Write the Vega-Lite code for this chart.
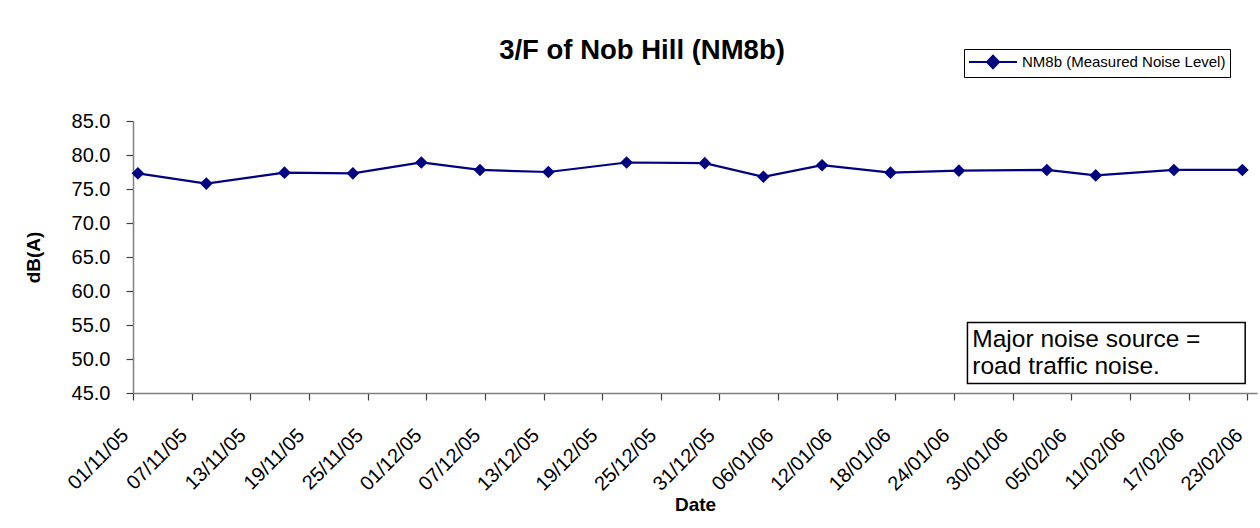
{
  "$schema": "https://vega.github.io/schema/vega-lite/v6.json",
  "autosize": {"type": "none"},
  "width": 1124,
  "height": 272,
  "padding": {"left": 133, "top": 121, "right": 3, "bottom": 135},
  "background": "white",
  "config": {
    "font": "Liberation Sans",
    "view": {"stroke": null},
    "axis": {"labelFont": "Liberation Sans", "titleFont": "Liberation Sans", "labelColor": "black", "titleColor": "black", "domainColor": "#808080", "tickColor": "#404040", "domainWidth": 1.5, "tickWidth": 1.2}
  },
  "title": {
    "text": "3/F of Nob Hill (NM8b)",
    "font": "Liberation Sans",
    "fontSize": 27.5,
    "fontWeight": "bold",
    "color": "black",
    "anchor": "middle",
    "frame": "group",
    "dx": -53,
    "baseline": "alphabetic",
    "offset": -38
  },
  "data": {
    "values": [
      {"date": "2005-11-01", "level": 77.3, "series": "NM8b (Measured Noise Level)"},
      {"date": "2005-11-08", "level": 75.8, "series": "NM8b (Measured Noise Level)"},
      {"date": "2005-11-16", "level": 77.4, "series": "NM8b (Measured Noise Level)"},
      {"date": "2005-11-23", "level": 77.3, "series": "NM8b (Measured Noise Level)"},
      {"date": "2005-11-30", "level": 78.9, "series": "NM8b (Measured Noise Level)"},
      {"date": "2005-12-06", "level": 77.8, "series": "NM8b (Measured Noise Level)"},
      {"date": "2005-12-13", "level": 77.5, "series": "NM8b (Measured Noise Level)"},
      {"date": "2005-12-21", "level": 78.9, "series": "NM8b (Measured Noise Level)"},
      {"date": "2005-12-29", "level": 78.8, "series": "NM8b (Measured Noise Level)"},
      {"date": "2006-01-04", "level": 76.8, "series": "NM8b (Measured Noise Level)"},
      {"date": "2006-01-10", "level": 78.5, "series": "NM8b (Measured Noise Level)"},
      {"date": "2006-01-17", "level": 77.4, "series": "NM8b (Measured Noise Level)"},
      {"date": "2006-01-24", "level": 77.7, "series": "NM8b (Measured Noise Level)"},
      {"date": "2006-02-02", "level": 77.8, "series": "NM8b (Measured Noise Level)"},
      {"date": "2006-02-07", "level": 77.0, "series": "NM8b (Measured Noise Level)"},
      {"date": "2006-02-15", "level": 77.8, "series": "NM8b (Measured Noise Level)"},
      {"date": "2006-02-22", "level": 77.8, "series": "NM8b (Measured Noise Level)"}
    ]
  },
  "layer": [
    {
      "mark": {"type": "line", "strokeWidth": 2.2, "point": {"shape": "diamond", "size": 160, "filled": true, "opacity": 1}},
      "encoding": {
        "x": {
          "field": "date",
          "timeUnit": "utcyearmonthdate",
          "type": "temporal",
          "bandPosition": 0.5,
          "scale": {"type": "utc", "domain": [{"year": 2005, "month": 11, "date": 1, "utc": true}, {"year": 2006, "month": 2, "date": 24, "utc": true}]},
          "axis": {
            "title": "Date",
            "titleFontSize": 19,
            "titleFontWeight": "bold",
            "titlePadding": 1,
            "format": "%d/%m/%y",
            "labelAngle": -45,
            "labelAlign": "right",
            "labelBaseline": "middle",
            "labelFontSize": 20,
            "labelPadding": 32,
            "labelOffset": -8,
            "labelOverlap": false,
            "tickSize": 7,
            "grid": false,
            "values": [
              {"year": 2005, "month": 11, "date": 1, "utc": true},
              {"year": 2005, "month": 11, "date": 7, "utc": true},
              {"year": 2005, "month": 11, "date": 13, "utc": true},
              {"year": 2005, "month": 11, "date": 19, "utc": true},
              {"year": 2005, "month": 11, "date": 25, "utc": true},
              {"year": 2005, "month": 12, "date": 1, "utc": true},
              {"year": 2005, "month": 12, "date": 7, "utc": true},
              {"year": 2005, "month": 12, "date": 13, "utc": true},
              {"year": 2005, "month": 12, "date": 19, "utc": true},
              {"year": 2005, "month": 12, "date": 25, "utc": true},
              {"year": 2005, "month": 12, "date": 31, "utc": true},
              {"year": 2006, "month": 1, "date": 6, "utc": true},
              {"year": 2006, "month": 1, "date": 12, "utc": true},
              {"year": 2006, "month": 1, "date": 18, "utc": true},
              {"year": 2006, "month": 1, "date": 24, "utc": true},
              {"year": 2006, "month": 1, "date": 30, "utc": true},
              {"year": 2006, "month": 2, "date": 5, "utc": true},
              {"year": 2006, "month": 2, "date": 11, "utc": true},
              {"year": 2006, "month": 2, "date": 17, "utc": true},
              {"year": 2006, "month": 2, "date": 23, "utc": true}
            ]
          }
        },
        "y": {
          "field": "level",
          "type": "quantitative",
          "scale": {"domain": [45, 85], "nice": false, "zero": false},
          "axis": {
            "title": "dB(A)",
            "titleFontSize": 19,
            "titleFontWeight": "bold",
            "titlePadding": 28,
            "values": [45, 50, 55, 60, 65, 70, 75, 80, 85],
            "format": ".1f",
            "labelFontSize": 20,
            "labelPadding": 16,
            "labelOverlap": false,
            "tickSize": 7,
            "grid": false
          }
        },
        "color": {
          "field": "series",
          "type": "nominal",
          "scale": {"range": ["#000080"]},
          "legend": {
            "title": null,
            "orient": "none",
            "legendX": 831,
            "legendY": -72,
            "direction": "vertical",
            "strokeColor": "black",
            "fillColor": "white",
            "padding": 4,
            "labelFont": "Liberation Sans",
            "labelFontSize": 15,
            "labelColor": "black",
            "labelLimit": 400,
            "labelOffset": 36,
            "symbolType": "M-1,0H5M2,-0.8L2.75,0L2,0.8L1.25,0Z",
            "symbolSize": 256,
            "symbolStrokeWidth": 2,
            "symbolStrokeColor": "#000080",
            "symbolFillColor": "#000080",
            "symbolOpacity": 1
          }
        }
      }
    },
    {
      "data": {"values": [{"note": "Major noise source =\nroad traffic noise."}]},
      "layer": [
        {
          "mark": {"type": "rect", "fill": "white", "stroke": "black", "strokeWidth": 1.5},
          "encoding": {
            "x": {"datum": {"year": 2006, "month": 1, "date": 25, "hours": 9, "utc": true}, "type": "temporal"},
            "x2": {"datum": {"year": 2006, "month": 2, "date": 22, "hours": 19, "utc": true}},
            "y": {
              "datum": 55.35,
              "type": "quantitative",
              "axis": {
                "title": "dB(A)",
                "titleFontSize": 19,
                "titleFontWeight": "bold",
                "titlePadding": 28,
                "values": [45, 50, 55, 60, 65, 70, 75, 80, 85],
                "format": ".1f",
                "labelFontSize": 20,
                "labelPadding": 16,
                "labelOverlap": false,
                "tickSize": 7,
                "grid": false
              }
            },
            "y2": {"datum": 46.4}
          }
        },
        {
          "mark": {"type": "text", "align": "left", "baseline": "alphabetic", "font": "Liberation Sans", "fontSize": 24.5, "lineHeight": 27, "lineBreak": "\n", "color": "black"},
          "encoding": {
            "text": {"field": "note", "type": "nominal"},
            "x": {"datum": {"year": 2006, "month": 1, "date": 25, "hours": 21, "utc": true}, "type": "temporal"},
            "y": {
              "datum": 51.8,
              "type": "quantitative",
              "axis": {
                "title": "dB(A)",
                "titleFontSize": 19,
                "titleFontWeight": "bold",
                "titlePadding": 28,
                "values": [45, 50, 55, 60, 65, 70, 75, 80, 85],
                "format": ".1f",
                "labelFontSize": 20,
                "labelPadding": 16,
                "labelOverlap": false,
                "tickSize": 7,
                "grid": false
              }
            }
          }
        }
      ]
    }
  ]
}
